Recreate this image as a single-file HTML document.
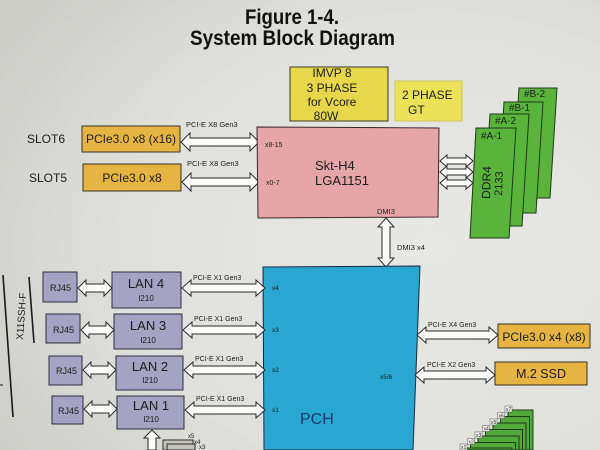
<!DOCTYPE html>
<html><head><meta charset="utf-8"><style>
html,body{margin:0;padding:0;width:600px;height:450px;overflow:hidden;}
svg{display:block;overflow:hidden;}
text{font-family:"Liberation Sans",Arial,sans-serif;fill:#1c1c1c;}
</style></head><body>
<svg width="600" height="450" viewBox="0 0 600 450" xmlns="http://www.w3.org/2000/svg">
<defs>
<radialGradient id="bg" cx="0.72" cy="0.55" r="0.85">
<stop offset="0" stop-color="#e8e8e5"/>
<stop offset="0.6" stop-color="#e0e0dc"/>
<stop offset="1" stop-color="#cdcdc8"/>
</radialGradient>
<clipPath id="frame"><rect x="0" y="0" width="600" height="450"/></clipPath>
</defs>
<g clip-path="url(#frame)">
<rect width="600" height="450" fill="url(#bg)"/>

<!-- Title -->
<text x="245" y="24" font-size="21" font-weight="bold" textLength="94" lengthAdjust="spacingAndGlyphs" style="fill:#111">Figure 1-4.</text>
<text x="190" y="45" font-size="21" font-weight="bold" textLength="205" lengthAdjust="spacingAndGlyphs" style="fill:#111">System Block Diagram</text>

<!-- IMVP box -->
<rect x="290" y="67" width="98" height="54" fill="#e6d84a" stroke="#3a3a2a" stroke-width="1"/>
<text x="332" y="77" font-size="12" text-anchor="middle">IMVP 8</text>
<text x="332" y="92" font-size="12" text-anchor="middle">3 PHASE</text>
<text x="332" y="106" font-size="12" text-anchor="middle">for Vcore</text>
<text x="326" y="120" font-size="12" text-anchor="middle">80W</text>

<!-- 2 PHASE GT -->
<rect x="395" y="81" width="67" height="40" fill="#ebe25a" stroke="#cfc85a" stroke-width="1"/>
<text x="402" y="99" font-size="12">2 PHASE</text>
<text x="408" y="114" font-size="12">GT</text>

<!-- Slots -->
<text x="27" y="143" font-size="12">SLOT6</text>
<text x="29" y="182" font-size="12">SLOT5</text>
<rect x="82" y="126" width="98" height="26" fill="#e6b443" stroke="#3a3220" stroke-width="1"/>
<text x="131" y="143" font-size="12" text-anchor="middle">PCIe3.0 x8 (x16)</text>
<rect x="83" y="164" width="98" height="27" fill="#e6b443" stroke="#3a3220" stroke-width="1"/>
<text x="132" y="182" font-size="12" text-anchor="middle">PCIe3.0 x8</text>

<text x="186" y="127" font-size="7.5">PCI-E X8 Gen3</text>
<text x="187" y="166" font-size="7.5">PCI-E X8 Gen3</text>
<g fill="#fbfbfa" stroke="#2a2a2a" stroke-width="1">
<polygon points="181,142 190,133 190,138 250,138 250,133 259,142 250,151 250,146 190,146 190,151"/>
<polygon points="182,182 191,173 191,178 250,178 250,173 259,182 250,191 250,186 191,186 191,191"/>
</g>

<!-- CPU -->
<polygon points="257,127 439,128 438,217 258,218" fill="#e6a6a8" stroke="#3a2a2a" stroke-width="1"/>
<text x="315" y="170" font-size="13">Skt-H4</text>
<text x="315" y="185" font-size="13">LGA1151</text>
<text x="265" y="147" font-size="7">x8-15</text>
<text x="266" y="185" font-size="7">x0-7</text>
<text x="377" y="214" font-size="7.5">DMI3</text>

<!-- Memory arrows -->
<g fill="#fbfbfa" stroke="#2a2a2a" stroke-width="1">
<polygon points="440,161 447,155 447,158 466,158 466,155 473,161 466,167 466,164 447,164 447,167"/>
<polygon points="440,172 447,166 447,169 466,169 466,166 473,172 466,178 466,175 447,175 447,178"/>
<polygon points="440,183 447,177 447,180 466,180 466,177 473,183 466,189 466,186 447,186 447,189"/>
</g>

<!-- DDR modules -->
<g fill="#5ab43c" stroke="#1e3a16" stroke-width="1">
<polygon points="519,88 557,88 550,198 512,198"/>
<polygon points="504,102 543,102 536,213 497,213"/>
<polygon points="490,114 529,114 522,226 483,226"/>
<polygon points="476,128 516,128 509,238 470,238"/>
</g>
<text x="524" y="97" font-size="10">#B-2</text>
<text x="509" y="111" font-size="10">#B-1</text>
<text x="495" y="124" font-size="10">#A-2</text>
<text x="481" y="139" font-size="10">#A-1</text>
<text transform="translate(490,199) rotate(-88)" font-size="12">DDR4</text>
<text transform="translate(502,196) rotate(-88)" font-size="11">2133</text>

<!-- DMI arrow -->
<polygon points="386,218 394,227 390,227 390,258 394,258 386,267 378,258 382,258 382,227 378,227" fill="#fbfbfa" stroke="#2a2a2a" stroke-width="1"/>
<text x="397" y="250" font-size="7.5">DMI3 x4</text>

<!-- PCH -->
<polygon points="263,267 420,266 413,450 264,450" fill="#2aa6d2" stroke="#1a2a3a" stroke-width="1"/>
<text x="300" y="424" font-size="16" style="fill:#163a6a">PCH</text>
<text x="272" y="290" font-size="6.5">x4</text>
<text x="272" y="332" font-size="6.5">x3</text>
<text x="272" y="372" font-size="6.5">x2</text>
<text x="272" y="412" font-size="6.5">x1</text>
<text x="380" y="379" font-size="6.5">x5/6</text>

<!-- Right PCIe -->
<rect x="498" y="324" width="92" height="24" fill="#e6b443" stroke="#3a3220" stroke-width="1"/>
<text x="544" y="341" font-size="12" text-anchor="middle">PCIe3.0 x4 (x8)</text>
<rect x="495" y="362" width="92" height="23" fill="#e6b443" stroke="#3a3220" stroke-width="1"/>
<text x="541" y="378" font-size="12.5" text-anchor="middle">M.2 SSD</text>
<text x="428" y="327" font-size="7">PCI-E X4 Gen3</text>
<text x="427" y="367" font-size="7">PCI-E X2 Gen3</text>
<g fill="#fbfbfa" stroke="#2a2a2a" stroke-width="1">
<polygon points="417,335 426,327 426,331 489,331 489,327 498,335 489,343 489,339 426,339 426,343"/>
<polygon points="415,375 424,367 424,371 486,371 486,367 495,375 486,383 486,379 424,379 424,383"/>
</g>

<!-- Left lines and board name -->
<line x1="3" y1="275" x2="13" y2="417" stroke="#1a1a1a" stroke-width="1.6"/>
<line x1="29" y1="277" x2="34" y2="343" stroke="#1a1a1a" stroke-width="1.6"/>
<line x1="0" y1="385" x2="3" y2="385" stroke="#1a1a1a" stroke-width="1"/>
<text transform="translate(23,340) rotate(-86)" font-size="10">X11SSH-F</text>

<!-- RJ45 and LAN -->
<g fill="#a4a3c4" stroke="#2e2e3e" stroke-width="1">
<rect x="43" y="272" width="34" height="30"/>
<rect x="112" y="272" width="69" height="36"/>
<rect x="46" y="314" width="34" height="29"/>
<rect x="114" y="314" width="68" height="35"/>
<rect x="49" y="356" width="33" height="29"/>
<rect x="116" y="356" width="67" height="34"/>
<rect x="52" y="396" width="31" height="28"/>
<rect x="117" y="396" width="67" height="33"/>
</g>
<g font-size="9">
<text x="50" y="291">RJ45</text>
<text x="53" y="333">RJ45</text>
<text x="56" y="374">RJ45</text>
<text x="58" y="414">RJ45</text>
</g>
<g font-size="13" text-anchor="middle">
<text x="146" y="288">LAN 4</text>
<text x="148" y="330">LAN 3</text>
<text x="150" y="371">LAN 2</text>
<text x="151" y="410">LAN 1</text>
</g>
<g font-size="8" text-anchor="middle">
<text x="146" y="301">I210</text>
<text x="148" y="343">I210</text>
<text x="150" y="383">I210</text>
<text x="151" y="422">I210</text>
</g>
<g fill="#fbfbfa" stroke="#2a2a2a" stroke-width="1">
<polygon points="78,288 86,280 86,284 104,284 104,280 112,288 104,296 104,292 86,292 86,296"/>
<polygon points="81,330 89,322 89,326 106,326 106,322 114,330 106,338 106,334 89,334 89,338"/>
<polygon points="83,370 91,362 91,366 108,366 108,362 116,370 108,378 108,374 91,374 91,378"/>
<polygon points="84,409 92,401 92,405 109,405 109,401 117,409 109,417 109,413 92,413 92,417"/>
<polygon points="182,288 191,280 191,284 256,284 256,280 265,288 256,296 256,292 191,292 191,296"/>
<polygon points="183,330 192,322 192,326 256,326 256,322 265,330 256,338 256,334 192,334 192,338"/>
<polygon points="184,370 193,362 193,366 256,366 256,362 265,370 256,378 256,374 193,374 193,378"/>
<polygon points="185,410 194,402 194,406 256,406 256,402 265,410 256,418 256,414 194,414 194,418"/>
<polygon points="152,430 160,438 156,438 156,450 148,450 148,438 144,438"/>
</g>
<g font-size="7">
<text x="193" y="280">PCI-E X1 Gen3</text>
<text x="194" y="321">PCI-E X1 Gen3</text>
<text x="195" y="361">PCI-E X1 Gen3</text>
<text x="196" y="401">PCI-E X1 Gen3</text>
</g>

<!-- bottom-left small boxes -->
<g fill="#c4c4bc" stroke="#2a2a2a" stroke-width="1">
<rect x="163" y="440" width="30" height="10"/>
<rect x="167" y="444" width="28" height="6"/>
</g>
<g font-size="6">
<text x="188" y="438">x5</text>
<text x="194" y="444">x4</text>
<text x="199" y="449">x3</text>
</g>

<!-- bottom-right staircase -->
<g fill="#52a83a" stroke="#1e3a16" stroke-width="1">
<rect x="508" y="410" width="25" height="40"/>
<rect x="500.5" y="416.5" width="29" height="33.5"/>
<rect x="493" y="423" width="33" height="27"/>
<rect x="485.5" y="429.5" width="37" height="20.5"/>
<rect x="478" y="436" width="41" height="14"/>
<rect x="470.5" y="442.5" width="45" height="7.5"/>
<rect x="463" y="448" width="49" height="2"/>
</g>
<g fill="#f4f4f0" stroke="#555" stroke-width="0.5">
<rect x="505" y="406" width="7" height="6"/>
<rect x="497.5" y="412.5" width="7" height="6"/>
<rect x="490" y="419" width="7" height="6"/>
<rect x="482.5" y="425.5" width="7" height="6"/>
<rect x="475" y="432" width="7" height="6"/>
<rect x="467.5" y="438.5" width="7" height="6"/>
<rect x="460" y="444" width="7" height="6"/>
</g>
<g font-size="5">
<text x="506" y="411">x7</text>
<text x="498.5" y="417.5">x6</text>
<text x="491" y="424">x5</text>
<text x="483.5" y="430.5">x4</text>
<text x="476" y="437">x3</text>
<text x="468.5" y="443.5">x2</text>
<text x="461" y="449">x1</text>
</g>
</g>
</svg>
</body></html>
